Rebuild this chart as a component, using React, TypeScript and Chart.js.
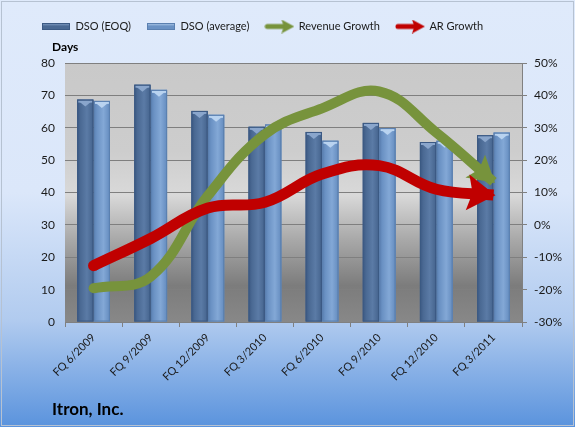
import React, { useEffect, useRef } from 'react';
import { Chart, registerables } from 'chart.js';

Chart.register(...registerables);

const categories = ['FQ 6/2009', 'FQ 9/2009', 'FQ 12/2009', 'FQ 3/2010', 'FQ 6/2010', 'FQ 9/2010', 'FQ 12/2010', 'FQ 3/2011'];
const dsoEOQ = [68.7, 73.3, 65.2, 60.3, 58.7, 61.5, 55.6, 57.7];
const dsoAverage = [68.3, 71.7, 64.0, 61.0, 56.0, 59.9, 56.0, 58.5];
const revenueGrowth = [-19.6, -16, 9, 28, 36, 41.2, 28.5, 13.3];
const arGrowth = [-12.6, -4.2, 5.2, 7, 15.7, 18.3, 11, 9.2];
const daysRange = { min: 0, max: 80, step: 10 };
const pctRange = { min: -30, max: 50, step: 10 };

const FONT = 'Lato, "Open Sans", sans-serif';

function barIcon(dark: string, light: string, border: string) {
  const cv = document.createElement('canvas');
  cv.width = 28; cv.height = 7;
  const g = cv.getContext('2d')!;
  const gr = g.createLinearGradient(0, 0, 0, 7);
  gr.addColorStop(0, light); gr.addColorStop(0.45, dark); gr.addColorStop(1, dark);
  g.fillStyle = gr; g.fillRect(0, 0, 28, 7);
  g.strokeStyle = border; g.lineWidth = 1; g.strokeRect(0.5, 0.5, 27, 6);
  return cv;
}

function arrowIcon(color: string) {
  const cv = document.createElement('canvas');
  cv.width = 30; cv.height = 14;
  const g = cv.getContext('2d')!;
  g.strokeStyle = color; g.lineWidth = 5; g.lineCap = 'round';
  g.beginPath(); g.moveTo(3, 7); g.lineTo(20, 7); g.stroke();
  g.fillStyle = color;
  g.beginPath(); g.moveTo(30, 7); g.lineTo(17, 0); g.lineTo(19.5, 7); g.lineTo(17, 14); g.closePath(); g.fill();
  return cv;
}

const barStyles: Record<number, { edge: string; mid: string; light: string; cap: string; outline: string }> = {
  0: { edge: '#3a5781', mid: '#4a6993', light: '#5b7ba6', cap: '#8aa6cc', outline: '#3c5a84' },
  1: { edge: '#5a80b2', mid: '#6b92c4', light: '#83a8d6', cap: '#b9d3f0', outline: '#5b80b0' },
};

const arrowSpec: Record<number, { len: number; half: number }> = {
  2: { len: 26, half: 15 },
  3: { len: 28, half: 18 },
};

const chartPlugin = {
  id: 'custom',
  beforeInit(chart: any) {
    const legend = chart.legend;
    if (legend) {
      const orig = legend.fit.bind(legend);
      legend.fit = function () { orig(); this.height = 58; };
    }
  },
  beforeDraw(chart: any) {
    const { ctx, width, height, chartArea } = chart;
    ctx.save();
    const bg = ctx.createLinearGradient(0, 0, 0, height);
    bg.addColorStop(0, '#dfeafb');
    bg.addColorStop(0.45, '#dbe7fa');
    bg.addColorStop(0.75, '#b1cbef');
    bg.addColorStop(1, '#5a93dd');
    ctx.fillStyle = bg;
    ctx.fillRect(0, 0, width, height);
    ctx.strokeStyle = '#b6c2d2';
    ctx.lineWidth = 1;
    ctx.strokeRect(1.5, 1.5, width - 3, height - 3);
    const { left, top, right, bottom } = chartArea;
    const pg = ctx.createLinearGradient(0, top, 0, bottom);
    pg.addColorStop(0, '#c9c9c9');
    pg.addColorStop(0.34, '#cdcdcd');
    pg.addColorStop(0.51, '#d9d9d9');
    pg.addColorStop(0.68, '#a9a9a9');
    pg.addColorStop(0.86, '#7c7c7c');
    pg.addColorStop(1, '#888888');
    ctx.fillStyle = pg;
    ctx.fillRect(left, top, right - left, bottom - top);
    ctx.restore();
  },
  afterDatasetDraw(chart: any, args: any) {
    const meta = args.meta;
    const ctx = chart.ctx;
    const idx = args.index;
    if (meta.type === 'bar') {
      const st = barStyles[idx];
      if (!st) return;
      ctx.save();
      meta.data.forEach((el: any) => {
        const { x, y, base, width } = el.getProps(['x', 'y', 'base', 'width'], true);
        const l = x - width / 2, r = x + width / 2;
        const gr = ctx.createLinearGradient(l, 0, r, 0);
        gr.addColorStop(0, st.edge);
        gr.addColorStop(0.2, st.mid);
        gr.addColorStop(0.6, st.light);
        gr.addColorStop(0.9, st.mid);
        gr.addColorStop(1, st.edge);
        ctx.fillStyle = gr;
        ctx.fillRect(l, y, width, base - y);
        ctx.fillStyle = st.cap;
        ctx.fillRect(l + 1, y + 1, width - 2, 2);
        ctx.beginPath();
        ctx.moveTo(l + 2, y + 2);
        ctx.lineTo(r - 2, y + 2);
        ctx.lineTo(x, y + 7);
        ctx.closePath();
        ctx.fill();
        ctx.strokeStyle = st.outline;
        ctx.lineWidth = 1;
        ctx.strokeRect(l + 0.5, y + 0.5, width - 1, base - y - 1);
      });
      ctx.restore();
    } else if (meta.type === 'line') {
      const spec = arrowSpec[idx];
      const pts = meta.data;
      const n = pts.length;
      if (!spec || n < 2) return;
      const ds = chart.data.datasets[idx];
      const color = ds.borderColor as string;
      const last = pts[n - 1];
      let dx = last.x - (last.cp1x ?? pts[n - 2].x);
      let dy = last.y - (last.cp1y ?? pts[n - 2].y);
      let d = Math.hypot(dx, dy);
      if (d < 1e-6) { dx = last.x - pts[n - 2].x; dy = last.y - pts[n - 2].y; d = Math.hypot(dx, dy); }
      dx /= d; dy /= d;
      const px = -dy, py = dx;
      const tipX = last.x + dx * 2, tipY = last.y + dy * 2;
      const bX = tipX - dx * spec.len, bY = tipY - dy * spec.len;
      const nX = bX + dx * 5, nY = bY + dy * 5;
      ctx.save();
      ctx.fillStyle = color;
      ctx.beginPath();
      ctx.moveTo(tipX, tipY);
      ctx.lineTo(bX + px * spec.half, bY + py * spec.half);
      ctx.lineTo(nX, nY);
      ctx.lineTo(bX - px * spec.half, bY - py * spec.half);
      ctx.closePath();
      ctx.fill();
      const first = pts[0];
      ctx.beginPath();
      ctx.arc(first.x, first.y, ds.borderWidth / 2, 0, Math.PI * 2);
      ctx.fill();
      ctx.restore();
    }
  },
  afterDraw(chart: any) {
    const ctx = chart.ctx;
    ctx.save();
    ctx.fillStyle = '#000000';
    ctx.textAlign = 'left';
    ctx.textBaseline = 'middle';
    ctx.font = `bold 12px ${FONT}`;
    ctx.fillText('Days', 52, 47);
    ctx.textBaseline = 'alphabetic';
    ctx.font = `bold 17px ${FONT}`;
    ctx.fillText('Itron, Inc.', 52, 415);
    ctx.restore();
  },
};

export default function App() {
  const ref = useRef<HTMLCanvasElement | null>(null);
  useEffect(() => {
    if (!ref.current) return;
    const icons = [
      barIcon('#4a6993', '#8aa6cc', '#3c5a84'),
      barIcon('#6b92c4', '#b9d3f0', '#5b80b0'),
      arrowIcon('#77933c'),
      arrowIcon('#c00000'),
    ];
    const chart = new Chart(ref.current, {
      type: 'bar',
      data: {
        labels: categories,
        datasets: [
          { type: 'bar', label: 'DSO (EOQ)', data: dsoEOQ, backgroundColor: '#4a6993', yAxisID: 'y', order: 2, categoryPercentage: 0.58, barPercentage: 0.98 },
          { type: 'bar', label: 'DSO (average)', data: dsoAverage, backgroundColor: '#6b92c4', yAxisID: 'y', order: 2, categoryPercentage: 0.58, barPercentage: 0.98 },
          { type: 'line', label: 'Revenue Growth', data: revenueGrowth, borderColor: '#77933c', backgroundColor: '#77933c', borderWidth: 10, tension: 0.4, pointRadius: 0, fill: false, yAxisID: 'y1', order: 1, borderCapStyle: 'butt', borderJoinStyle: 'round' },
          { type: 'line', label: 'AR Growth', data: arGrowth, borderColor: '#c00000', backgroundColor: '#c00000', borderWidth: 11, tension: 0.4, pointRadius: 0, fill: false, yAxisID: 'y1', order: 0, borderCapStyle: 'butt', borderJoinStyle: 'round' },
        ] as any,
      },
      options: {
        responsive: false,
        animation: false,
        layout: { padding: { left: 26, right: 0, top: 5, bottom: 42 } },
        plugins: {
          tooltip: { enabled: false },
          legend: {
            position: 'top',
            align: 'start',
            labels: {
              usePointStyle: true,
              pointStyleWidth: 28,
              padding: 16,
              color: '#1a1a1a',
              font: { family: FONT, size: 11 },
              generateLabels: (c: any) => c.data.datasets.map((ds: any, i: number) => ({
                text: ds.label,
                fillStyle: ds.backgroundColor,
                strokeStyle: ds.backgroundColor,
                lineWidth: 0,
                pointStyle: icons[i],
                hidden: false,
                datasetIndex: i,
                fontColor: '#1a1a1a',
              })),
            },
          },
        },
        scales: {
          x: {
            offset: true,
            grid: { display: true, drawOnChartArea: false, drawTicks: true, tickLength: 5, offset: true, color: '#808080' },
            border: { display: true, color: '#808080' },
            ticks: { maxRotation: 45, minRotation: 45, autoSkip: false, color: '#1a1a1a', font: { family: FONT, size: 11 }, padding: 4 },
            afterFit: (s: any) => { s.height = 63; },
          },
          y: {
            position: 'left',
            min: daysRange.min,
            max: daysRange.max,
            ticks: { stepSize: daysRange.step, color: '#1a1a1a', font: { family: FONT, size: 12 }, padding: 10 },
            grid: { color: '#7f7f7f', drawTicks: false },
            border: { display: false },
            afterFit: (s: any) => { s.width = 39; },
          },
          y1: {
            position: 'right',
            min: pctRange.min,
            max: pctRange.max,
            ticks: { stepSize: pctRange.step, color: '#1a1a1a', font: { family: FONT, size: 12 }, padding: 7, callback: (v: any) => `${v}%` },
            grid: { drawOnChartArea: false, drawTicks: true, tickLength: 5, color: '#808080' },
            border: { display: true, color: '#808080' },
            afterFit: (s: any) => { s.width = 53; },
          },
        },
      } as any,
      plugins: [chartPlugin],
    });
    return () => chart.destroy();
  }, []);
  return (
    <div style={{ position: 'absolute', left: 0, top: 0, width: 575, height: 427 }}>
      <canvas ref={ref} width={575} height={427} style={{ display: 'block' }} />
    </div>
  );
}
